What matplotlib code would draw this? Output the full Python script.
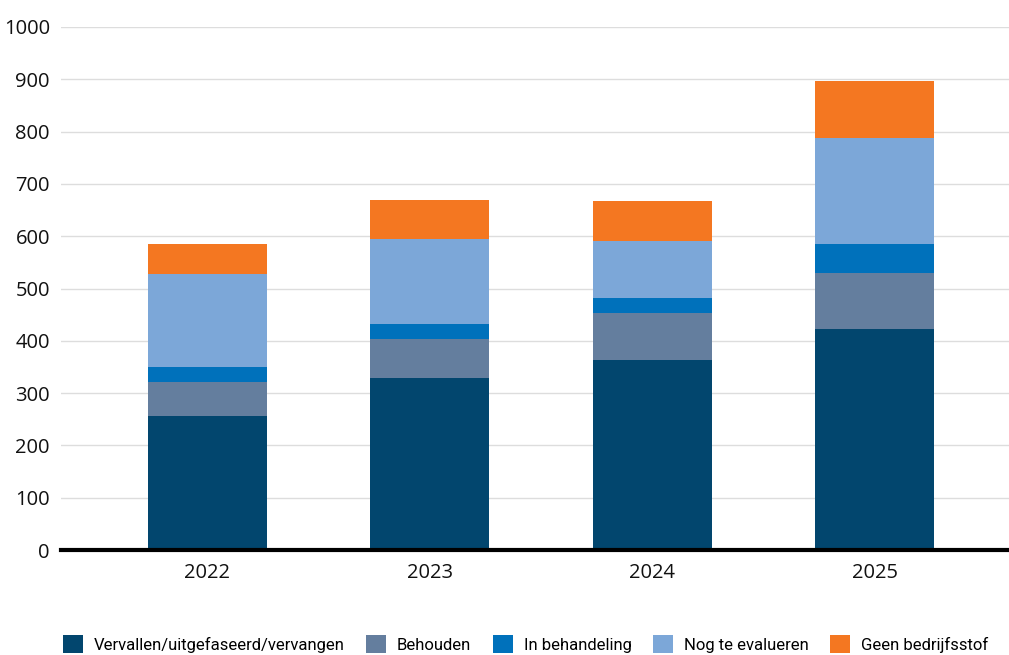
import matplotlib
matplotlib.use("Agg")
import matplotlib.pyplot as plt
from matplotlib.patches import Patch
import numpy as np

jaren = ["2022", "2023", "2024", "2025"]
vervallen = [256, 329, 363, 422]
behouden = [65, 74, 90, 107]
in_behandeling = [28, 29, 29, 56]
nog_te_evalueren = [178, 163, 109, 202]
geen_bedrijfsstof = [59, 74, 76, 110]

reeksen = [
    ("Vervallen/uitgefaseerd/vervangen", vervallen, "#02466e"),
    ("Behouden", behouden, "#647e9e"),
    ("In behandeling", in_behandeling, "#0071bb"),
    ("Nog te evalueren", nog_te_evalueren, "#7ca7d8"),
    ("Geen bedrijfsstof", geen_bedrijfsstof, "#f47721"),
]

plt.rcParams['font.family'] = ['Open Sans', 'DejaVu Sans']

fig = plt.figure(figsize=(10.09, 6.55), dpi=100)
ax = fig.add_axes([61 / 1009, 1 - 550 / 655, 1 - 61 / 1009, (550 - 27) / 655])

x = np.arange(len(jaren))
bodem = np.zeros(len(jaren))
for naam, waarden, kleur in reeksen:
    ax.bar(x, waarden, 0.535, bottom=bodem, color=kleur, label=naam, zorder=2)
    bodem += np.array(waarden)

ax.set_xlim(-0.658, 3.604)
ax.set_ylim(0, 1000)
ax.set_yticks(range(0, 1001, 100))
ax.set_xticks(x)
ax.set_xticklabels(jaren)
ax.grid(axis='y', color='#dddddd', linewidth=1, zorder=0)
for s in ['top', 'right', 'left']:
    ax.spines[s].set_visible(False)
ax.spines['bottom'].set_linewidth(3)
ax.spines['bottom'].set_zorder(3)
ax.tick_params(axis='both', length=0, labelsize=14.5, colors='#111111')
ax.tick_params(axis='x', pad=9)
ax.tick_params(axis='y', pad=8)

handles = [Patch(facecolor=k, label=n) for n, w, k in reeksen]
fig.legend(handles=handles, loc='center left', bbox_to_anchor=(51 / 1009, 1 - 644 / 655), ncol=5,
           frameon=False, prop={'family': ['Roboto', 'DejaVu Sans'], 'size': 12},
           handlelength=1.2, handleheight=1.2, handletextpad=0.65, columnspacing=1.3,
           borderpad=0.2)

fig.savefig("out.png", dpi=100)
